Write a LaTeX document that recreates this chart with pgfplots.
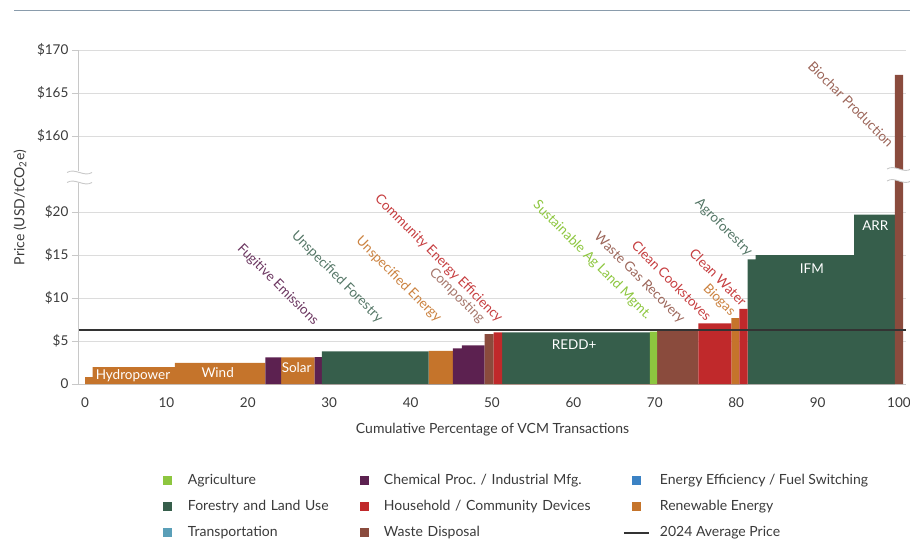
\documentclass[border=0pt]{standalone}
\usepackage{pgfplots}
\pgfplotsset{compat=1.18}
\usepackage{fontspec}
\setmainfont{Lato}
\definecolor{agri}{HTML}{8DC63F}
\definecolor{chem}{HTML}{5C2150}
\definecolor{eeff}{HTML}{3B82C4}
\definecolor{forest}{HTML}{365E4B}
\definecolor{house}{HTML}{C0292B}
\definecolor{renew}{HTML}{C5742B}
\definecolor{transp}{HTML}{5A9FB8}
\definecolor{waste}{HTML}{8A4B3D}
\definecolor{avgc}{HTML}{333333}
\definecolor{txt}{HTML}{3A3A3A}
\definecolor{gridc}{HTML}{DCDCDC}
\definecolor{axc}{HTML}{C8C8C8}
\definecolor{topline}{HTML}{8A9CAC}
\makeatletter
% broken y axis: values above 100 are shifted down so that $160 sits just above $20
\def\brktrafo#1{%
  \pgfmathfloatparsenumber{#1}\let\brk@a\pgfmathresult
  \pgfmathfloatparsenumber{100}\let\brk@b\pgfmathresult
  \pgfmathfloatlessthan{\brk@b}{\brk@a}%
  \ifpgfmathfloatcomparison
    \pgfmathfloatparsenumber{131.16}\let\brk@c\pgfmathresult
    \pgfmathfloatsubtract{\brk@a}{\brk@c}%
  \else
    \let\pgfmathresult\brk@a
  \fi}
\makeatother
\pgfplotsset{
  sqlegend/.style={legend image code/.code={\fill[##1] (0pt,-4.5pt) rectangle (9pt,4.5pt);}},
  avglegend/.style={legend image code/.code={\draw[##1] (-8pt,0pt) -- (17pt,0pt);}},
}
\begin{document}
\begin{tikzpicture}[x=1pt,y=1pt]
\useasboundingbox (0,0) rectangle (910,542);
\draw[color=topline, line width=1.6pt] (14,531.5) -- (910,531.5);
\begin{axis}[
  at={(78.9pt,158pt)}, anchor=south west,
  scale only axis, width=827.4pt, height=334pt,
  xmin=-0.75, xmax=100.9, ymin=0, ymax=170,
  y coord trafo/.code={\brktrafo{#1}},
  clip=false,
  axis x line*=bottom, axis y line*=left,
  axis line style={axc, line width=0.9pt, -},
  xtick={0,10,...,100},
  ytick={0,5,10,15,20,160,165,170},
  yticklabels={0,\$5,\$10,\$15,\$20,\$160,\$165,\$170},
  /pgf/number format/assume math mode=true,
  tick label style={font=\fontsize{13.5}{15}\selectfont, text=txt},
  xtick style={draw=none},
  ytick style={axc, line width=0.9pt},
  tick align=outside, major tick length=7pt,
  xticklabel style={yshift=-3pt},
  ymajorgrids, grid style={gridc, line width=0.9pt},
  xlabel={Cumulative Percentage of VCM Transactions},
  ylabel={Price (USD/tCO\textsubscript{2}e)},
  label style={font=\fontsize{14}{16}\selectfont, text=txt},
  xlabel style={at={(axis description cs:0.5,-0.138)}, anchor=center},
  ylabel style={at={(axis description cs:-0.0713,0.528)}, anchor=center},
  legend columns=3,
  legend cell align=left,
  legend style={at={(axis description cs:0.1022,-0.2695)}, anchor=north west,
    draw=none, fill=none, inner sep=0pt, outer sep=0pt, row sep=13pt,
    font=\fontsize{14}{16}\selectfont, text=txt,
    nodes={inner sep=0pt, text height=10pt, text depth=3pt},
    /tikz/column 1/.style={column sep=15.5pt},
    /tikz/column 2/.style={text width=172pt},
    /tikz/column 3/.style={column sep=15pt},
    /tikz/column 4/.style={text width=239pt},
    /tikz/column 5/.style={column sep=10pt}},
]
% Bars: const plot, x = left edge of each project type (cumulative %), y = price (USD)
\addplot[const plot, fill=renew, draw=none, forget plot] coordinates {
 (0,0.8) (0.95,1.95) (11.05,2.45) (22.15,0) (24.1,3.1) (28.2,0) (42.2,3.85) (45.2,0) (79.4,7.65) (80.4,0)} \closedcycle;
\addplot[const plot, fill=chem, draw=none, forget plot] coordinates {
 (22.15,3.1) (24.1,0) (28.2,3.12) (29.1,0) (45.2,4.15) (46.3,4.5) (49.1,0)} \closedcycle;
\addplot[const plot, fill=forest, draw=none, forget plot] coordinates {
 (29.1,3.8) (42.2,0) (51.25,6.0) (69.4,0) (81.4,14.5) (82.4,15.0) (94.5,19.7) (99.5,0)} \closedcycle;
\addplot[const plot, fill=waste, draw=none, forget plot] coordinates {
 (49.1,5.8) (50.2,0) (70.3,6.25) (75.35,0) (99.5,167.1) (100.5,0)} \closedcycle;
\addplot[const plot, fill=house, draw=none, forget plot] coordinates {
 (50.2,6.0) (51.25,0) (75.35,7.05) (79.4,0) (80.4,8.75) (81.4,0)} \closedcycle;
\addplot[const plot, fill=agri, draw=none, forget plot] coordinates {
 (69.4,6.1) (70.3,0)} \closedcycle;
% 2024 average price
\addplot[avgc, line width=1.8pt, forget plot] coordinates {(-0.75,6.3) (100.9,6.3)};
% legend entries
\addlegendimage{sqlegend, fill=agri, draw=none}
\addlegendentry{Agriculture}
\addlegendimage{sqlegend, fill=chem, draw=none}
\addlegendentry{Chemical Proc.\ / Industrial Mfg.}
\addlegendimage{sqlegend, fill=eeff, draw=none}
\addlegendentry{Energy Efficiency / Fuel Switching}
\addlegendimage{sqlegend, fill=forest, draw=none}
\addlegendentry{Forestry and Land Use}
\addlegendimage{sqlegend, fill=house, draw=none}
\addlegendentry{Household / Community Devices}
\addlegendimage{sqlegend, fill=renew, draw=none}
\addlegendentry{Renewable Energy}
\addlegendimage{sqlegend, fill=transp, draw=none}
\addlegendentry{Transportation}
\addlegendimage{sqlegend, fill=waste, draw=none}
\addlegendentry{Waste Disposal}
\addlegendimage{avglegend, avgc, line width=2pt}
\addlegendentry{2024 Average Price}
% labels inside bars
\begin{scope}[every node/.style={font=\fontsize{13.5}{15}\selectfont, text=white, anchor=center}]
\node at (axis cs:5.9,0.93) {Hydropower};
\node at (axis cs:16.3,1.28) {Wind};
\node at (axis cs:26.0,1.86) {Solar};
\node at (axis cs:60.1,4.54) {REDD+};
\node at (axis cs:89.3,13.43) {IFM};
\node at (axis cs:97.1,18.37) {ARR};
\end{scope}
% rotated labels
\begin{scope}[every node/.style={font=\fontsize{13.5}{15}\selectfont, rotate=-45, anchor=east, inner sep=1pt}]
\node[text=chem!90!white] at (axis cs:28.5,6.97) {Fugitive Emissions};
\node[text=forest!85!white] at (axis cs:36.4,7.32) {Unspecified Forestry};
\node[text=renew!90!white] at (axis cs:43.6,7.32) {Unspecified Energy};
\node[text=waste!75!white] at (axis cs:48.9,7.2) {Composting};
\node[text=house!90!white] at (axis cs:51.1,7.32) {Community Energy Efficiency};
\node[text=agri] at (axis cs:69.4,7.67) {Sustainable Ag Land Mgmt.};
\node[text=waste!85!white] at (axis cs:73.5,7.2) {Waste Gas Recovery};
\node[text=house!90!white] at (axis cs:76.8,7.55) {Clean Cookstoves};
\node[text=house!90!white] at (axis cs:81.1,9.3) {Clean Water};
\node[text=renew!90!white] at (axis cs:79.7,8.02) {Biogas};
\node[text=forest!85!white] at (axis cs:81.8,15.0) {Agroforestry};
\node[text=waste!85!white] at (axis cs:99.15,158.93) {Biochar Production};
\end{scope}
\end{axis}
% axis break marks (decoration)
\fill[white] (73,359) rectangle (85,371);
\draw[axc, line width=0.9pt] (67,369.5) .. controls (75,374.5) and (84,364.5) .. (92,369.5);
\draw[axc, line width=0.9pt] (67,359.5) .. controls (75,364.5) and (84,354.5) .. (92,359.5);
\fill[white] (887,373) .. controls (895,378) and (903,368) .. (911,373) -- (911,361) .. controls (903,356) and (895,366) .. (887,361) -- cycle;
\draw[axc, line width=0.9pt] (887,373) .. controls (895,378) and (903,368) .. (911,373);
\draw[axc, line width=0.9pt] (887,361) .. controls (895,366) and (903,356) .. (911,361);
\end{tikzpicture}
\end{document}
